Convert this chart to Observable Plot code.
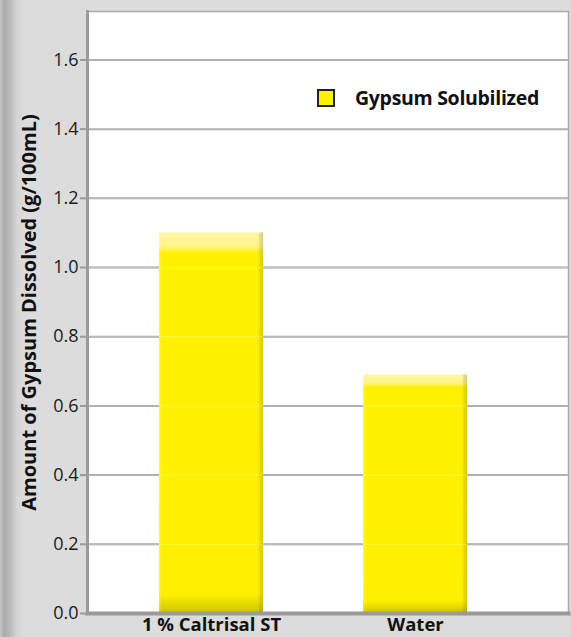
<!DOCTYPE html>
<html>
<head>
<meta charset="utf-8">
<script src="https://cdn.jsdelivr.net/npm/d3@7"></script>
<script src="https://cdn.jsdelivr.net/npm/@observablehq/plot@0.6"></script>
<style>
  html, body { margin: 0; padding: 0; }
  body {
    width: 571px; height: 637px; overflow: hidden;
    background: linear-gradient(to right, #c6c6c6 0px, #ababab 4px, #b9b9b9 10px, #d6d6d6 17px, #dcdcdc 24px, #dcdcdc 100%);
  }
  #wrap { position: relative; width: 571px; height: 637px; }
  #legend { position: absolute; left: 317px; top: 84px; display: flex; align-items: center; }
  #legend .sw { width: 18px; height: 18px; box-sizing: border-box; border: 2px solid #222; background: #fff200; }
  #legend .lb { margin-left: 20px; font: bold 19.5px "Open Sans", sans-serif; color: #111; letter-spacing: -0.3px; }
</style>
</head>
<body>
<div id="wrap"></div>
<script>
const categories = ["1 % Caltrisal ST", "Water"];
const values = [1.10, 0.69];
const yTicks = [0, 0.2, 0.4, 0.6, 0.8, 1.0, 1.2, 1.4, 1.6];
const seriesName = "Gypsum Solubilized";
const yLabel = "Amount of Gypsum Dissolved (g/100mL)";

const data = categories.map((c, i) => ({cat: c, value: values[i]}));

const svg = Plot.plot({
  width: 571, height: 637,
  marginLeft: 87, marginRight: 3, marginTop: 11, marginBottom: 24,
  style: {background: "transparent", fontFamily: "'Open Sans', sans-serif", overflow: "visible"},
  x: {domain: categories, paddingInner: 0.491, paddingOuter: 0.4218, align: 0.417, label: null},
  y: {domain: [0, 1.74], label: null},
  marks: [
    Plot.frame({fill: "white", stroke: "#a8a8a8", strokeWidth: 1.5}),
    Plot.ruleY(yTicks.slice(1), {stroke: "#a3a3a3", strokeWidth: 2}),
    Plot.barY(data, {x: "cat", y: "value", fill: "url(#barFill)"}),
    Plot.barY(data, {x: "cat", y: "value", fill: "url(#barEdge)"}),
    Plot.ruleY(yTicks.slice(1), {stroke: "white", strokeOpacity: 0.3, strokeWidth: 1}),
    Plot.frame({anchor: "left", stroke: "#9a9a9a", strokeWidth: 3}),
    Plot.frame({anchor: "bottom", stroke: "#9a9a9a", strokeWidth: 4}),
    Plot.axisY({ticks: yTicks, tickFormat: d3.format(".1f"), tickSize: 7, tickPadding: 2,
      stroke: "#9a9a9a", strokeWidth: 2, fill: "#1a1a1a", fontSize: 18}),
    Plot.axisX({tickSize: 0, tickPadding: 4, fontSize: 18.5, fontWeight: "bold", fill: "#111",
      letterSpacing: "-0.3px"}),
    Plot.text([yLabel], {frameAnchor: "left", textAnchor: "middle", rotate: -90, dx: -58, text: d => d,
      fontSize: 20, fontWeight: "bold", fill: "#111"})
  ]
});

svg.insertAdjacentHTML("afterbegin", `
<defs>
  <linearGradient id="barFill" x1="0" y1="0" x2="0" y2="1">
    <stop offset="0" stop-color="#fff6a4"/>
    <stop offset="0.035" stop-color="#fff48c"/>
    <stop offset="0.055" stop-color="#fff200"/>
    <stop offset="0.95" stop-color="#fff000"/>
    <stop offset="0.975" stop-color="#e6da00"/>
    <stop offset="1" stop-color="#cdc000"/>
  </linearGradient>
  <linearGradient id="barEdge" x1="0" y1="0" x2="1" y2="0">
    <stop offset="0" stop-color="#ffffff" stop-opacity="0.25"/>
    <stop offset="0.03" stop-color="#ffffff" stop-opacity="0"/>
    <stop offset="0.95" stop-color="#000000" stop-opacity="0"/>
    <stop offset="1" stop-color="#786400" stop-opacity="0.25"/>
  </linearGradient>
</defs>`);

const wrap = document.getElementById("wrap");
wrap.appendChild(svg);
const legend = document.createElement("div");
legend.id = "legend";
legend.innerHTML = `<div class="sw"></div><div class="lb"></div>`;
legend.querySelector(".lb").textContent = seriesName;
wrap.appendChild(legend);
</script>
</body>
</html>
